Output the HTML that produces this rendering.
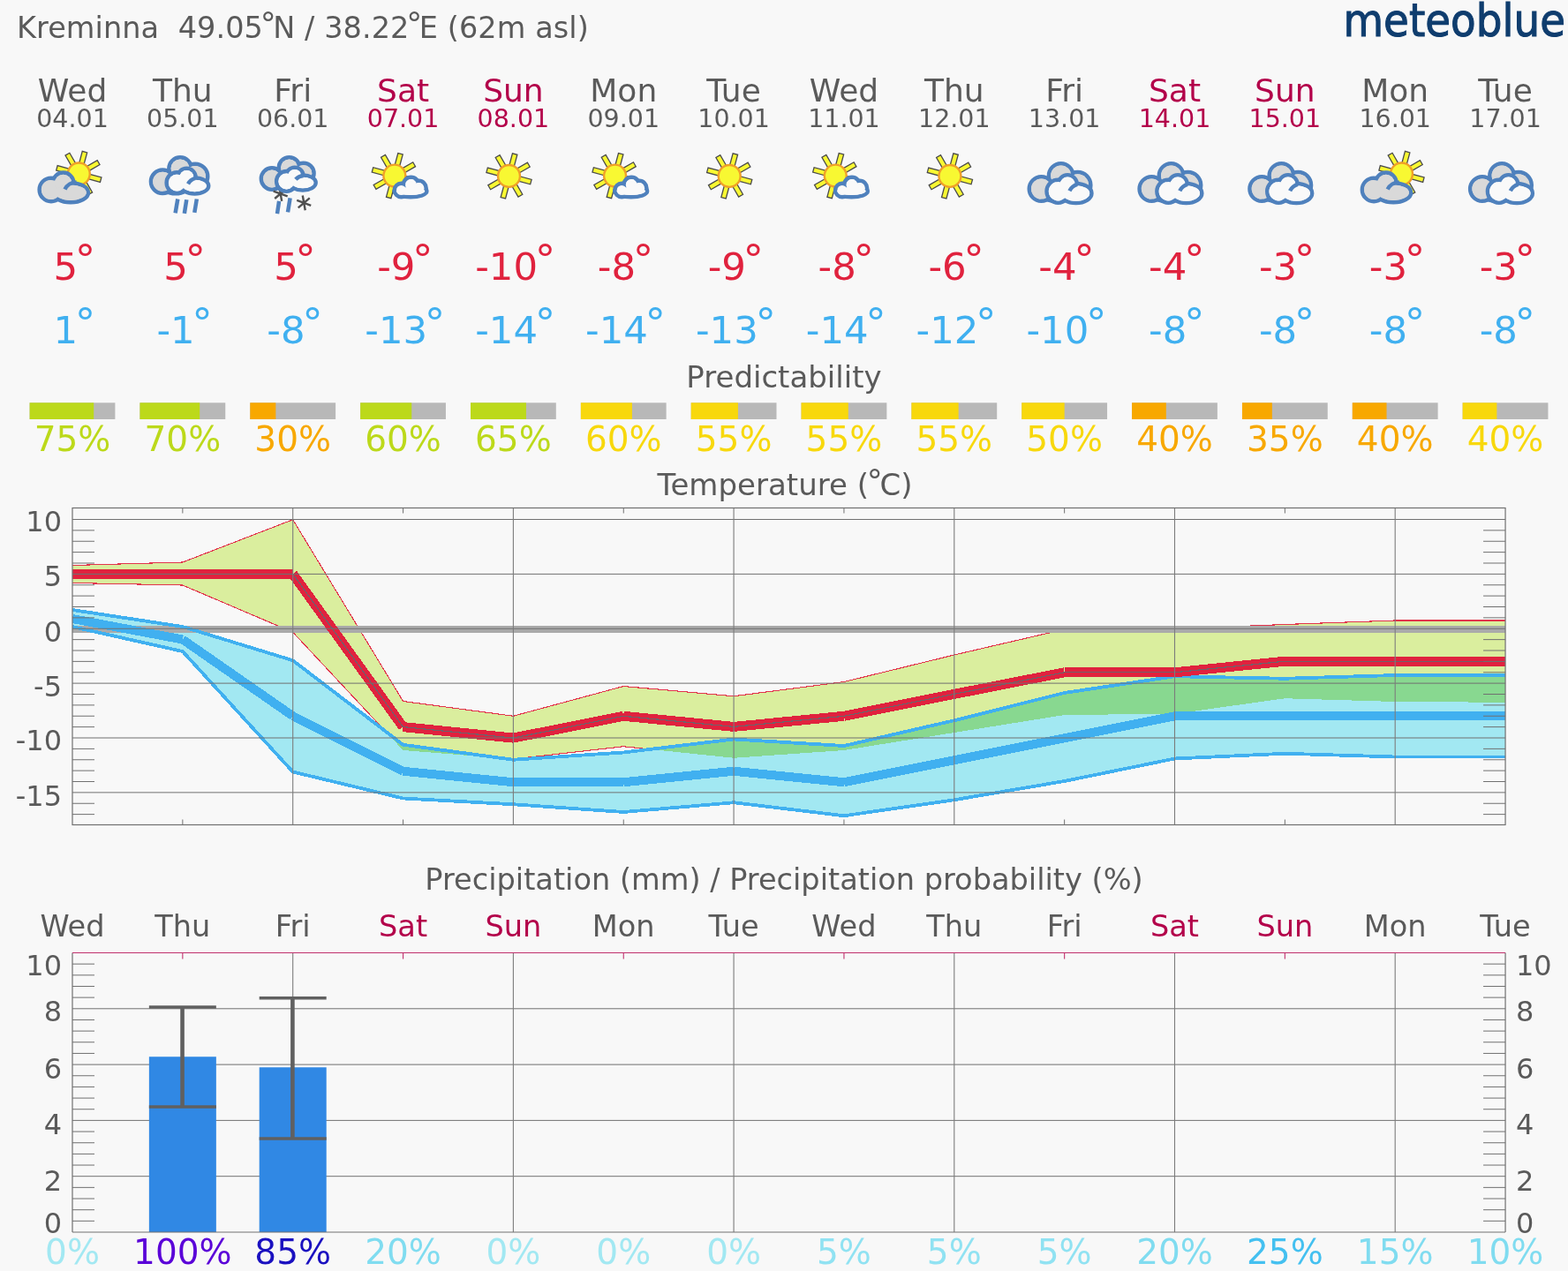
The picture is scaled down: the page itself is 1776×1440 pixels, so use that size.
<!DOCTYPE html>
<html><head><meta charset="utf-8"><title>meteoblue 14-day meteogram Kreminna</title>
<style>
html,body{margin:0;padding:0;background:#f8f8f8;}
body{width:1776px;height:1440px;overflow:hidden;}
svg{display:block;}
text{font-family:'DejaVu Sans', 'Liberation Sans', sans-serif;}
</style></head><body>
<svg width="1776" height="1440" viewBox="0 0 1776 1440">
<rect x="0" y="0" width="1776" height="1440" fill="#f8f8f8"/>

<text x="19" y="43" font-size="33.5" letter-spacing="0.08" fill="#5a5a5a" xml:space="preserve">Kreminna  49.05<tspan font-size="36" dx="-3.2" dy="-4.5">°</tspan><tspan dx="-3.6" dy="4.5">N / 38.22</tspan><tspan font-size="36" dx="-3.2" dy="-4.5">°</tspan><tspan dx="-3.6" dy="4.5">E (62m asl)</tspan></text>
<text x="1521.5" y="41.4" font-size="52" fill="#0f3d6e" stroke="#0f3d6e" stroke-width="1.1" textLength="251.5" lengthAdjust="spacingAndGlyphs" style="font-family:'DejaVu Sans',sans-serif">meteoblue</text>
<text x="82.00" y="115" font-size="36" fill="#5a5a5a" text-anchor="middle">Wed</text>
<text x="82.00" y="144" font-size="28.5" fill="#5a5a5a" text-anchor="middle">04.01</text>
<text x="206.85" y="115" font-size="36" fill="#5a5a5a" text-anchor="middle">Thu</text>
<text x="206.85" y="144" font-size="28.5" fill="#5a5a5a" text-anchor="middle">05.01</text>
<text x="331.70" y="115" font-size="36" fill="#5a5a5a" text-anchor="middle">Fri</text>
<text x="331.70" y="144" font-size="28.5" fill="#5a5a5a" text-anchor="middle">06.01</text>
<text x="456.55" y="115" font-size="36" fill="#b3004a" text-anchor="middle">Sat</text>
<text x="456.55" y="144" font-size="28.5" fill="#b3004a" text-anchor="middle">07.01</text>
<text x="581.40" y="115" font-size="36" fill="#b3004a" text-anchor="middle">Sun</text>
<text x="581.40" y="144" font-size="28.5" fill="#b3004a" text-anchor="middle">08.01</text>
<text x="706.25" y="115" font-size="36" fill="#5a5a5a" text-anchor="middle">Mon</text>
<text x="706.25" y="144" font-size="28.5" fill="#5a5a5a" text-anchor="middle">09.01</text>
<text x="831.10" y="115" font-size="36" fill="#5a5a5a" text-anchor="middle">Tue</text>
<text x="831.10" y="144" font-size="28.5" fill="#5a5a5a" text-anchor="middle">10.01</text>
<text x="955.95" y="115" font-size="36" fill="#5a5a5a" text-anchor="middle">Wed</text>
<text x="955.95" y="144" font-size="28.5" fill="#5a5a5a" text-anchor="middle">11.01</text>
<text x="1080.80" y="115" font-size="36" fill="#5a5a5a" text-anchor="middle">Thu</text>
<text x="1080.80" y="144" font-size="28.5" fill="#5a5a5a" text-anchor="middle">12.01</text>
<text x="1205.65" y="115" font-size="36" fill="#5a5a5a" text-anchor="middle">Fri</text>
<text x="1205.65" y="144" font-size="28.5" fill="#5a5a5a" text-anchor="middle">13.01</text>
<text x="1330.50" y="115" font-size="36" fill="#b3004a" text-anchor="middle">Sat</text>
<text x="1330.50" y="144" font-size="28.5" fill="#b3004a" text-anchor="middle">14.01</text>
<text x="1455.35" y="115" font-size="36" fill="#b3004a" text-anchor="middle">Sun</text>
<text x="1455.35" y="144" font-size="28.5" fill="#b3004a" text-anchor="middle">15.01</text>
<text x="1580.20" y="115" font-size="36" fill="#5a5a5a" text-anchor="middle">Mon</text>
<text x="1580.20" y="144" font-size="28.5" fill="#5a5a5a" text-anchor="middle">16.01</text>
<text x="1705.05" y="115" font-size="36" fill="#5a5a5a" text-anchor="middle">Tue</text>
<text x="1705.05" y="144" font-size="28.5" fill="#5a5a5a" text-anchor="middle">17.01</text>
<g><polygon points="94.76,187.44 98.67,172.85 93.26,171.40 89.35,185.99" fill="#f8f832" stroke="#4a4a4a" stroke-width="1.3" stroke-linejoin="miter"/><polygon points="99.92,194.10 113.00,186.55 110.20,181.70 97.12,189.25" fill="#f8f832" stroke="#4a4a4a" stroke-width="1.3" stroke-linejoin="miter"/><polygon points="98.86,202.46 113.45,206.37 114.90,200.96 100.31,197.05" fill="#f8f832" stroke="#4a4a4a" stroke-width="1.3" stroke-linejoin="miter"/><polygon points="92.20,207.62 99.75,220.70 104.60,217.90 97.05,204.82" fill="#f8f832" stroke="#4a4a4a" stroke-width="1.3" stroke-linejoin="miter"/><polygon points="83.84,206.56 79.93,221.15 85.34,222.60 89.25,208.01" fill="#f8f832" stroke="#4a4a4a" stroke-width="1.3" stroke-linejoin="miter"/><polygon points="78.68,199.90 65.60,207.45 68.40,212.30 81.48,204.75" fill="#f8f832" stroke="#4a4a4a" stroke-width="1.3" stroke-linejoin="miter"/><polygon points="79.74,191.54 65.15,187.63 63.70,193.04 78.29,196.95" fill="#f8f832" stroke="#4a4a4a" stroke-width="1.3" stroke-linejoin="miter"/><polygon points="86.40,186.38 78.85,173.30 74.00,176.10 81.55,189.18" fill="#f8f832" stroke="#4a4a4a" stroke-width="1.3" stroke-linejoin="miter"/><circle cx="89.30" cy="197.00" r="12.45" fill="#f8f832" stroke="#f0a028" stroke-width="2.4"/><circle cx="57.90" cy="214.90" r="13.25" fill="#d9d9d9" stroke="#4f81bd" stroke-width="4.5"/><circle cx="71.60" cy="207.30" r="11.75" fill="#d9d9d9" stroke="#4f81bd" stroke-width="4.5"/><ellipse cx="80.00" cy="218.15" rx="20.00" ry="11.00" fill="#d9d9d9" stroke="#4f81bd" stroke-width="4.5"/><circle cx="57.90" cy="214.90" r="11.00" fill="#d9d9d9"/><circle cx="71.60" cy="207.30" r="9.50" fill="#d9d9d9"/><ellipse cx="80.00" cy="218.15" rx="17.75" ry="8.75" fill="#d9d9d9"/><path d="M73.50,214.50 A13.50,13.50 0 0 1 86.50,206.80" fill="none" stroke="#4f81bd" stroke-width="4.5"/></g>
<g><circle cx="184.20" cy="205.80" r="13.25" fill="#d9d9d9" stroke="#4f81bd" stroke-width="4.5"/><circle cx="204.10" cy="191.00" r="12.75" fill="#d9d9d9" stroke="#4f81bd" stroke-width="4.5"/><circle cx="221.00" cy="200.00" r="14.25" fill="#d9d9d9" stroke="#4f81bd" stroke-width="4.5"/><ellipse cx="198.85" cy="209.00" rx="15.75" ry="10.25" fill="#d9d9d9" stroke="#4f81bd" stroke-width="4.5"/><circle cx="184.20" cy="205.80" r="11.00" fill="#d9d9d9"/><circle cx="204.10" cy="191.00" r="10.50" fill="#d9d9d9"/><circle cx="221.00" cy="200.00" r="12.00" fill="#d9d9d9"/><ellipse cx="198.85" cy="209.00" rx="13.50" ry="8.00" fill="#d9d9d9"/><circle cx="200.50" cy="207.00" r="11.85" fill="#f9f9f9" stroke="#4f81bd" stroke-width="4.5"/><circle cx="211.40" cy="201.00" r="10.25" fill="#f9f9f9" stroke="#4f81bd" stroke-width="4.5"/><ellipse cx="220.50" cy="210.50" rx="15.75" ry="8.95" fill="#f9f9f9" stroke="#4f81bd" stroke-width="4.5"/><circle cx="200.50" cy="207.00" r="9.60" fill="#f9f9f9"/><circle cx="211.40" cy="201.00" r="8.00" fill="#f9f9f9"/><ellipse cx="220.50" cy="210.50" rx="13.50" ry="6.70" fill="#f9f9f9"/><path d="M213.00,208.30 A14.00,14.00 0 0 1 221.15,201.80" fill="none" stroke="#4f81bd" stroke-width="4.5"/><line x1="201.30" y1="225.50" x2="198.60" y2="241.30" stroke="#4f81bd" stroke-width="4.5"/><line x1="211.30" y1="226.25" x2="208.85" y2="241.90" stroke="#4f81bd" stroke-width="4.5"/><line x1="222.85" y1="225.50" x2="220.30" y2="240.80" stroke="#4f81bd" stroke-width="4.5"/></g>
<g><circle cx="308.00" cy="202.50" r="12.15" fill="#d9d9d9" stroke="#4f81bd" stroke-width="4.5"/><circle cx="327.60" cy="190.00" r="11.75" fill="#d9d9d9" stroke="#4f81bd" stroke-width="4.5"/><circle cx="343.80" cy="196.50" r="11.75" fill="#d9d9d9" stroke="#4f81bd" stroke-width="4.5"/><ellipse cx="322.70" cy="206.00" rx="13.75" ry="8.75" fill="#d9d9d9" stroke="#4f81bd" stroke-width="4.5"/><circle cx="308.00" cy="202.50" r="9.90" fill="#d9d9d9"/><circle cx="327.60" cy="190.00" r="9.50" fill="#d9d9d9"/><circle cx="343.80" cy="196.50" r="9.50" fill="#d9d9d9"/><ellipse cx="322.70" cy="206.00" rx="11.50" ry="6.50" fill="#d9d9d9"/><line x1="319.18" y1="227.87" x2="316.22" y2="211.13" stroke="#505050" stroke-width="2.4"/><line x1="311.19" y1="224.96" x2="324.21" y2="214.04" stroke="#505050" stroke-width="2.4"/><line x1="309.71" y1="216.59" x2="325.69" y2="222.41" stroke="#505050" stroke-width="2.4"/><circle cx="324.50" cy="205.40" r="11.35" fill="#f9f9f9" stroke="#4f81bd" stroke-width="4.5"/><circle cx="333.80" cy="199.40" r="9.75" fill="#f9f9f9" stroke="#4f81bd" stroke-width="4.5"/><ellipse cx="342.90" cy="207.00" rx="14.75" ry="8.55" fill="#f9f9f9" stroke="#4f81bd" stroke-width="4.5"/><circle cx="324.50" cy="205.40" r="9.10" fill="#f9f9f9"/><circle cx="333.80" cy="199.40" r="7.50" fill="#f9f9f9"/><ellipse cx="342.90" cy="207.00" rx="12.50" ry="6.30" fill="#f9f9f9"/><path d="M334.90,203.30 A13.00,13.00 0 0 1 343.70,198.90" fill="none" stroke="#4f81bd" stroke-width="4.5"/><line x1="316.10" y1="227.80" x2="314.00" y2="242.10" stroke="#4f81bd" stroke-width="4.5"/><line x1="328.60" y1="224.40" x2="326.00" y2="240.30" stroke="#4f81bd" stroke-width="4.5"/><line x1="345.73" y1="238.27" x2="342.77" y2="221.53" stroke="#505050" stroke-width="2.4"/><line x1="337.74" y1="235.36" x2="350.76" y2="224.44" stroke="#505050" stroke-width="2.4"/><line x1="336.26" y1="226.99" x2="352.24" y2="232.81" stroke="#505050" stroke-width="2.4"/></g>
<g><polygon points="452.31,189.54 456.22,174.95 450.81,173.50 446.90,188.09" fill="#f8f832" stroke="#4a4a4a" stroke-width="1.3" stroke-linejoin="miter"/><polygon points="457.47,196.20 470.55,188.65 467.75,183.80 454.67,191.35" fill="#f8f832" stroke="#4a4a4a" stroke-width="1.3" stroke-linejoin="miter"/><polygon points="456.41,204.56 471.00,208.47 472.45,203.06 457.86,199.15" fill="#f8f832" stroke="#4a4a4a" stroke-width="1.3" stroke-linejoin="miter"/><polygon points="449.75,209.72 457.30,222.80 462.15,220.00 454.60,206.92" fill="#f8f832" stroke="#4a4a4a" stroke-width="1.3" stroke-linejoin="miter"/><polygon points="441.39,208.66 437.48,223.25 442.89,224.70 446.80,210.11" fill="#f8f832" stroke="#4a4a4a" stroke-width="1.3" stroke-linejoin="miter"/><polygon points="436.23,202.00 423.15,209.55 425.95,214.40 439.03,206.85" fill="#f8f832" stroke="#4a4a4a" stroke-width="1.3" stroke-linejoin="miter"/><polygon points="437.29,193.64 422.70,189.73 421.25,195.14 435.84,199.05" fill="#f8f832" stroke="#4a4a4a" stroke-width="1.3" stroke-linejoin="miter"/><polygon points="443.95,188.48 436.40,175.40 431.55,178.20 439.10,191.28" fill="#f8f832" stroke="#4a4a4a" stroke-width="1.3" stroke-linejoin="miter"/><circle cx="446.85" cy="199.10" r="12.45" fill="#f8f832" stroke="#f0a028" stroke-width="2.4"/><circle cx="454.50" cy="215.50" r="7.75" fill="#f9f9f9" stroke="#4f81bd" stroke-width="4.5"/><circle cx="465.55" cy="209.50" r="8.75" fill="#f9f9f9" stroke="#4f81bd" stroke-width="4.5"/><circle cx="474.35" cy="213.20" r="8.35" fill="#f9f9f9" stroke="#4f81bd" stroke-width="4.5"/><ellipse cx="465.05" cy="216.60" rx="18.35" ry="6.65" fill="#f9f9f9" stroke="#4f81bd" stroke-width="4.5"/><circle cx="454.50" cy="215.50" r="5.50" fill="#f9f9f9"/><circle cx="465.55" cy="209.50" r="6.50" fill="#f9f9f9"/><circle cx="474.35" cy="213.20" r="6.10" fill="#f9f9f9"/><ellipse cx="465.05" cy="216.60" rx="16.10" ry="4.40" fill="#f9f9f9"/></g>
<g><polygon points="581.96,189.84 585.87,175.25 580.46,173.80 576.55,188.39" fill="#f8f832" stroke="#4a4a4a" stroke-width="1.3" stroke-linejoin="miter"/><polygon points="587.12,196.50 600.20,188.95 597.40,184.10 584.32,191.65" fill="#f8f832" stroke="#4a4a4a" stroke-width="1.3" stroke-linejoin="miter"/><polygon points="586.06,204.86 600.65,208.77 602.10,203.36 587.51,199.45" fill="#f8f832" stroke="#4a4a4a" stroke-width="1.3" stroke-linejoin="miter"/><polygon points="579.40,210.02 586.95,223.10 591.80,220.30 584.25,207.22" fill="#f8f832" stroke="#4a4a4a" stroke-width="1.3" stroke-linejoin="miter"/><polygon points="571.04,208.96 567.13,223.55 572.54,225.00 576.45,210.41" fill="#f8f832" stroke="#4a4a4a" stroke-width="1.3" stroke-linejoin="miter"/><polygon points="565.88,202.30 552.80,209.85 555.60,214.70 568.68,207.15" fill="#f8f832" stroke="#4a4a4a" stroke-width="1.3" stroke-linejoin="miter"/><polygon points="566.94,193.94 552.35,190.03 550.90,195.44 565.49,199.35" fill="#f8f832" stroke="#4a4a4a" stroke-width="1.3" stroke-linejoin="miter"/><polygon points="573.60,188.78 566.05,175.70 561.20,178.50 568.75,191.58" fill="#f8f832" stroke="#4a4a4a" stroke-width="1.3" stroke-linejoin="miter"/><circle cx="576.50" cy="199.40" r="12.45" fill="#f8f832" stroke="#f0a028" stroke-width="2.4"/></g>
<g><polygon points="702.01,189.54 705.92,174.95 700.51,173.50 696.60,188.09" fill="#f8f832" stroke="#4a4a4a" stroke-width="1.3" stroke-linejoin="miter"/><polygon points="707.17,196.20 720.25,188.65 717.45,183.80 704.37,191.35" fill="#f8f832" stroke="#4a4a4a" stroke-width="1.3" stroke-linejoin="miter"/><polygon points="706.11,204.56 720.70,208.47 722.15,203.06 707.56,199.15" fill="#f8f832" stroke="#4a4a4a" stroke-width="1.3" stroke-linejoin="miter"/><polygon points="699.45,209.72 707.00,222.80 711.85,220.00 704.30,206.92" fill="#f8f832" stroke="#4a4a4a" stroke-width="1.3" stroke-linejoin="miter"/><polygon points="691.09,208.66 687.18,223.25 692.59,224.70 696.50,210.11" fill="#f8f832" stroke="#4a4a4a" stroke-width="1.3" stroke-linejoin="miter"/><polygon points="685.93,202.00 672.85,209.55 675.65,214.40 688.73,206.85" fill="#f8f832" stroke="#4a4a4a" stroke-width="1.3" stroke-linejoin="miter"/><polygon points="686.99,193.64 672.40,189.73 670.95,195.14 685.54,199.05" fill="#f8f832" stroke="#4a4a4a" stroke-width="1.3" stroke-linejoin="miter"/><polygon points="693.65,188.48 686.10,175.40 681.25,178.20 688.80,191.28" fill="#f8f832" stroke="#4a4a4a" stroke-width="1.3" stroke-linejoin="miter"/><circle cx="696.55" cy="199.10" r="12.45" fill="#f8f832" stroke="#f0a028" stroke-width="2.4"/><circle cx="704.20" cy="215.50" r="7.75" fill="#f9f9f9" stroke="#4f81bd" stroke-width="4.5"/><circle cx="715.25" cy="209.50" r="8.75" fill="#f9f9f9" stroke="#4f81bd" stroke-width="4.5"/><circle cx="724.05" cy="213.20" r="8.35" fill="#f9f9f9" stroke="#4f81bd" stroke-width="4.5"/><ellipse cx="714.75" cy="216.60" rx="18.35" ry="6.65" fill="#f9f9f9" stroke="#4f81bd" stroke-width="4.5"/><circle cx="704.20" cy="215.50" r="5.50" fill="#f9f9f9"/><circle cx="715.25" cy="209.50" r="6.50" fill="#f9f9f9"/><circle cx="724.05" cy="213.20" r="6.10" fill="#f9f9f9"/><ellipse cx="714.75" cy="216.60" rx="16.10" ry="4.40" fill="#f9f9f9"/></g>
<g><polygon points="831.66,189.84 835.57,175.25 830.16,173.80 826.25,188.39" fill="#f8f832" stroke="#4a4a4a" stroke-width="1.3" stroke-linejoin="miter"/><polygon points="836.82,196.50 849.90,188.95 847.10,184.10 834.02,191.65" fill="#f8f832" stroke="#4a4a4a" stroke-width="1.3" stroke-linejoin="miter"/><polygon points="835.76,204.86 850.35,208.77 851.80,203.36 837.21,199.45" fill="#f8f832" stroke="#4a4a4a" stroke-width="1.3" stroke-linejoin="miter"/><polygon points="829.10,210.02 836.65,223.10 841.50,220.30 833.95,207.22" fill="#f8f832" stroke="#4a4a4a" stroke-width="1.3" stroke-linejoin="miter"/><polygon points="820.74,208.96 816.83,223.55 822.24,225.00 826.15,210.41" fill="#f8f832" stroke="#4a4a4a" stroke-width="1.3" stroke-linejoin="miter"/><polygon points="815.58,202.30 802.50,209.85 805.30,214.70 818.38,207.15" fill="#f8f832" stroke="#4a4a4a" stroke-width="1.3" stroke-linejoin="miter"/><polygon points="816.64,193.94 802.05,190.03 800.60,195.44 815.19,199.35" fill="#f8f832" stroke="#4a4a4a" stroke-width="1.3" stroke-linejoin="miter"/><polygon points="823.30,188.78 815.75,175.70 810.90,178.50 818.45,191.58" fill="#f8f832" stroke="#4a4a4a" stroke-width="1.3" stroke-linejoin="miter"/><circle cx="826.20" cy="199.40" r="12.45" fill="#f8f832" stroke="#f0a028" stroke-width="2.4"/></g>
<g><polygon points="951.71,189.54 955.62,174.95 950.21,173.50 946.30,188.09" fill="#f8f832" stroke="#4a4a4a" stroke-width="1.3" stroke-linejoin="miter"/><polygon points="956.87,196.20 969.95,188.65 967.15,183.80 954.07,191.35" fill="#f8f832" stroke="#4a4a4a" stroke-width="1.3" stroke-linejoin="miter"/><polygon points="955.81,204.56 970.40,208.47 971.85,203.06 957.26,199.15" fill="#f8f832" stroke="#4a4a4a" stroke-width="1.3" stroke-linejoin="miter"/><polygon points="949.15,209.72 956.70,222.80 961.55,220.00 954.00,206.92" fill="#f8f832" stroke="#4a4a4a" stroke-width="1.3" stroke-linejoin="miter"/><polygon points="940.79,208.66 936.88,223.25 942.29,224.70 946.20,210.11" fill="#f8f832" stroke="#4a4a4a" stroke-width="1.3" stroke-linejoin="miter"/><polygon points="935.63,202.00 922.55,209.55 925.35,214.40 938.43,206.85" fill="#f8f832" stroke="#4a4a4a" stroke-width="1.3" stroke-linejoin="miter"/><polygon points="936.69,193.64 922.10,189.73 920.65,195.14 935.24,199.05" fill="#f8f832" stroke="#4a4a4a" stroke-width="1.3" stroke-linejoin="miter"/><polygon points="943.35,188.48 935.80,175.40 930.95,178.20 938.50,191.28" fill="#f8f832" stroke="#4a4a4a" stroke-width="1.3" stroke-linejoin="miter"/><circle cx="946.25" cy="199.10" r="12.45" fill="#f8f832" stroke="#f0a028" stroke-width="2.4"/><circle cx="953.90" cy="215.50" r="7.75" fill="#f9f9f9" stroke="#4f81bd" stroke-width="4.5"/><circle cx="964.95" cy="209.50" r="8.75" fill="#f9f9f9" stroke="#4f81bd" stroke-width="4.5"/><circle cx="973.75" cy="213.20" r="8.35" fill="#f9f9f9" stroke="#4f81bd" stroke-width="4.5"/><ellipse cx="964.45" cy="216.60" rx="18.35" ry="6.65" fill="#f9f9f9" stroke="#4f81bd" stroke-width="4.5"/><circle cx="953.90" cy="215.50" r="5.50" fill="#f9f9f9"/><circle cx="964.95" cy="209.50" r="6.50" fill="#f9f9f9"/><circle cx="973.75" cy="213.20" r="6.10" fill="#f9f9f9"/><ellipse cx="964.45" cy="216.60" rx="16.10" ry="4.40" fill="#f9f9f9"/></g>
<g><polygon points="1081.36,189.84 1085.27,175.25 1079.86,173.80 1075.95,188.39" fill="#f8f832" stroke="#4a4a4a" stroke-width="1.3" stroke-linejoin="miter"/><polygon points="1086.52,196.50 1099.60,188.95 1096.80,184.10 1083.72,191.65" fill="#f8f832" stroke="#4a4a4a" stroke-width="1.3" stroke-linejoin="miter"/><polygon points="1085.46,204.86 1100.05,208.77 1101.50,203.36 1086.91,199.45" fill="#f8f832" stroke="#4a4a4a" stroke-width="1.3" stroke-linejoin="miter"/><polygon points="1078.80,210.02 1086.35,223.10 1091.20,220.30 1083.65,207.22" fill="#f8f832" stroke="#4a4a4a" stroke-width="1.3" stroke-linejoin="miter"/><polygon points="1070.44,208.96 1066.53,223.55 1071.94,225.00 1075.85,210.41" fill="#f8f832" stroke="#4a4a4a" stroke-width="1.3" stroke-linejoin="miter"/><polygon points="1065.28,202.30 1052.20,209.85 1055.00,214.70 1068.08,207.15" fill="#f8f832" stroke="#4a4a4a" stroke-width="1.3" stroke-linejoin="miter"/><polygon points="1066.34,193.94 1051.75,190.03 1050.30,195.44 1064.89,199.35" fill="#f8f832" stroke="#4a4a4a" stroke-width="1.3" stroke-linejoin="miter"/><polygon points="1073.00,188.78 1065.45,175.70 1060.60,178.50 1068.15,191.58" fill="#f8f832" stroke="#4a4a4a" stroke-width="1.3" stroke-linejoin="miter"/><circle cx="1075.90" cy="199.40" r="12.45" fill="#f8f832" stroke="#f0a028" stroke-width="2.4"/></g>
<g><circle cx="1179.50" cy="214.00" r="13.75" fill="#d9d9d9" stroke="#4f81bd" stroke-width="4.5"/><circle cx="1201.70" cy="199.00" r="13.75" fill="#d9d9d9" stroke="#4f81bd" stroke-width="4.5"/><circle cx="1220.60" cy="209.80" r="14.75" fill="#d9d9d9" stroke="#4f81bd" stroke-width="4.5"/><ellipse cx="1195.00" cy="218.00" rx="17.75" ry="9.75" fill="#d9d9d9" stroke="#4f81bd" stroke-width="4.5"/><circle cx="1179.50" cy="214.00" r="11.50" fill="#d9d9d9"/><circle cx="1201.70" cy="199.00" r="11.50" fill="#d9d9d9"/><circle cx="1220.60" cy="209.80" r="12.50" fill="#d9d9d9"/><ellipse cx="1195.00" cy="218.00" rx="15.50" ry="7.50" fill="#d9d9d9"/><circle cx="1198.50" cy="216.70" r="12.95" fill="#f9f9f9" stroke="#4f81bd" stroke-width="4.5"/><circle cx="1209.20" cy="209.10" r="10.75" fill="#f9f9f9" stroke="#4f81bd" stroke-width="4.5"/><ellipse cx="1218.70" cy="219.00" rx="17.75" ry="11.05" fill="#f9f9f9" stroke="#4f81bd" stroke-width="4.5"/><circle cx="1198.50" cy="216.70" r="10.70" fill="#f9f9f9"/><circle cx="1209.20" cy="209.10" r="8.50" fill="#f9f9f9"/><ellipse cx="1218.70" cy="219.00" rx="15.50" ry="8.80" fill="#f9f9f9"/><path d="M1211.40,216.20 A14.00,14.00 0 0 1 1220.25,208.80" fill="none" stroke="#4f81bd" stroke-width="4.5"/></g>
<g><circle cx="1304.35" cy="214.00" r="13.75" fill="#d9d9d9" stroke="#4f81bd" stroke-width="4.5"/><circle cx="1326.55" cy="199.00" r="13.75" fill="#d9d9d9" stroke="#4f81bd" stroke-width="4.5"/><circle cx="1345.45" cy="209.80" r="14.75" fill="#d9d9d9" stroke="#4f81bd" stroke-width="4.5"/><ellipse cx="1319.85" cy="218.00" rx="17.75" ry="9.75" fill="#d9d9d9" stroke="#4f81bd" stroke-width="4.5"/><circle cx="1304.35" cy="214.00" r="11.50" fill="#d9d9d9"/><circle cx="1326.55" cy="199.00" r="11.50" fill="#d9d9d9"/><circle cx="1345.45" cy="209.80" r="12.50" fill="#d9d9d9"/><ellipse cx="1319.85" cy="218.00" rx="15.50" ry="7.50" fill="#d9d9d9"/><circle cx="1323.35" cy="216.70" r="12.95" fill="#f9f9f9" stroke="#4f81bd" stroke-width="4.5"/><circle cx="1334.05" cy="209.10" r="10.75" fill="#f9f9f9" stroke="#4f81bd" stroke-width="4.5"/><ellipse cx="1343.55" cy="219.00" rx="17.75" ry="11.05" fill="#f9f9f9" stroke="#4f81bd" stroke-width="4.5"/><circle cx="1323.35" cy="216.70" r="10.70" fill="#f9f9f9"/><circle cx="1334.05" cy="209.10" r="8.50" fill="#f9f9f9"/><ellipse cx="1343.55" cy="219.00" rx="15.50" ry="8.80" fill="#f9f9f9"/><path d="M1336.25,216.20 A14.00,14.00 0 0 1 1345.10,208.80" fill="none" stroke="#4f81bd" stroke-width="4.5"/></g>
<g><circle cx="1429.20" cy="214.00" r="13.75" fill="#d9d9d9" stroke="#4f81bd" stroke-width="4.5"/><circle cx="1451.40" cy="199.00" r="13.75" fill="#d9d9d9" stroke="#4f81bd" stroke-width="4.5"/><circle cx="1470.30" cy="209.80" r="14.75" fill="#d9d9d9" stroke="#4f81bd" stroke-width="4.5"/><ellipse cx="1444.70" cy="218.00" rx="17.75" ry="9.75" fill="#d9d9d9" stroke="#4f81bd" stroke-width="4.5"/><circle cx="1429.20" cy="214.00" r="11.50" fill="#d9d9d9"/><circle cx="1451.40" cy="199.00" r="11.50" fill="#d9d9d9"/><circle cx="1470.30" cy="209.80" r="12.50" fill="#d9d9d9"/><ellipse cx="1444.70" cy="218.00" rx="15.50" ry="7.50" fill="#d9d9d9"/><circle cx="1448.20" cy="216.70" r="12.95" fill="#f9f9f9" stroke="#4f81bd" stroke-width="4.5"/><circle cx="1458.90" cy="209.10" r="10.75" fill="#f9f9f9" stroke="#4f81bd" stroke-width="4.5"/><ellipse cx="1468.40" cy="219.00" rx="17.75" ry="11.05" fill="#f9f9f9" stroke="#4f81bd" stroke-width="4.5"/><circle cx="1448.20" cy="216.70" r="10.70" fill="#f9f9f9"/><circle cx="1458.90" cy="209.10" r="8.50" fill="#f9f9f9"/><ellipse cx="1468.40" cy="219.00" rx="15.50" ry="8.80" fill="#f9f9f9"/><path d="M1461.10,216.20 A14.00,14.00 0 0 1 1469.95,208.80" fill="none" stroke="#4f81bd" stroke-width="4.5"/></g>
<g><polygon points="1592.96,187.44 1596.87,172.85 1591.46,171.40 1587.55,185.99" fill="#f8f832" stroke="#4a4a4a" stroke-width="1.3" stroke-linejoin="miter"/><polygon points="1598.12,194.10 1611.20,186.55 1608.40,181.70 1595.32,189.25" fill="#f8f832" stroke="#4a4a4a" stroke-width="1.3" stroke-linejoin="miter"/><polygon points="1597.06,202.46 1611.65,206.37 1613.10,200.96 1598.51,197.05" fill="#f8f832" stroke="#4a4a4a" stroke-width="1.3" stroke-linejoin="miter"/><polygon points="1590.40,207.62 1597.95,220.70 1602.80,217.90 1595.25,204.82" fill="#f8f832" stroke="#4a4a4a" stroke-width="1.3" stroke-linejoin="miter"/><polygon points="1582.04,206.56 1578.13,221.15 1583.54,222.60 1587.45,208.01" fill="#f8f832" stroke="#4a4a4a" stroke-width="1.3" stroke-linejoin="miter"/><polygon points="1576.88,199.90 1563.80,207.45 1566.60,212.30 1579.68,204.75" fill="#f8f832" stroke="#4a4a4a" stroke-width="1.3" stroke-linejoin="miter"/><polygon points="1577.94,191.54 1563.35,187.63 1561.90,193.04 1576.49,196.95" fill="#f8f832" stroke="#4a4a4a" stroke-width="1.3" stroke-linejoin="miter"/><polygon points="1584.60,186.38 1577.05,173.30 1572.20,176.10 1579.75,189.18" fill="#f8f832" stroke="#4a4a4a" stroke-width="1.3" stroke-linejoin="miter"/><circle cx="1587.50" cy="197.00" r="12.45" fill="#f8f832" stroke="#f0a028" stroke-width="2.4"/><circle cx="1556.10" cy="214.90" r="13.25" fill="#d9d9d9" stroke="#4f81bd" stroke-width="4.5"/><circle cx="1569.80" cy="207.30" r="11.75" fill="#d9d9d9" stroke="#4f81bd" stroke-width="4.5"/><ellipse cx="1578.20" cy="218.15" rx="20.00" ry="11.00" fill="#d9d9d9" stroke="#4f81bd" stroke-width="4.5"/><circle cx="1556.10" cy="214.90" r="11.00" fill="#d9d9d9"/><circle cx="1569.80" cy="207.30" r="9.50" fill="#d9d9d9"/><ellipse cx="1578.20" cy="218.15" rx="17.75" ry="8.75" fill="#d9d9d9"/><path d="M1571.70,214.50 A13.50,13.50 0 0 1 1584.70,206.80" fill="none" stroke="#4f81bd" stroke-width="4.5"/></g>
<g><circle cx="1678.90" cy="214.00" r="13.75" fill="#d9d9d9" stroke="#4f81bd" stroke-width="4.5"/><circle cx="1701.10" cy="199.00" r="13.75" fill="#d9d9d9" stroke="#4f81bd" stroke-width="4.5"/><circle cx="1720.00" cy="209.80" r="14.75" fill="#d9d9d9" stroke="#4f81bd" stroke-width="4.5"/><ellipse cx="1694.40" cy="218.00" rx="17.75" ry="9.75" fill="#d9d9d9" stroke="#4f81bd" stroke-width="4.5"/><circle cx="1678.90" cy="214.00" r="11.50" fill="#d9d9d9"/><circle cx="1701.10" cy="199.00" r="11.50" fill="#d9d9d9"/><circle cx="1720.00" cy="209.80" r="12.50" fill="#d9d9d9"/><ellipse cx="1694.40" cy="218.00" rx="15.50" ry="7.50" fill="#d9d9d9"/><circle cx="1697.90" cy="216.70" r="12.95" fill="#f9f9f9" stroke="#4f81bd" stroke-width="4.5"/><circle cx="1708.60" cy="209.10" r="10.75" fill="#f9f9f9" stroke="#4f81bd" stroke-width="4.5"/><ellipse cx="1718.10" cy="219.00" rx="17.75" ry="11.05" fill="#f9f9f9" stroke="#4f81bd" stroke-width="4.5"/><circle cx="1697.90" cy="216.70" r="10.70" fill="#f9f9f9"/><circle cx="1708.60" cy="209.10" r="8.50" fill="#f9f9f9"/><ellipse cx="1718.10" cy="219.00" rx="15.50" ry="8.80" fill="#f9f9f9"/><path d="M1710.80,216.20 A14.00,14.00 0 0 1 1719.65,208.80" fill="none" stroke="#4f81bd" stroke-width="4.5"/></g>
<text x="84.30" y="317.0" font-size="43.4" fill="#e0223e" text-anchor="middle">5<tspan font-size="47" dx="-3.4" dy="-7">°</tspan></text>
<text x="84.30" y="389.0" font-size="43.4" fill="#40b0f0" text-anchor="middle">1<tspan font-size="47" dx="-3.4" dy="-7">°</tspan></text>
<text x="209.15" y="317.0" font-size="43.4" fill="#e0223e" text-anchor="middle">5<tspan font-size="47" dx="-3.4" dy="-7">°</tspan></text>
<text x="209.15" y="389.0" font-size="43.4" fill="#40b0f0" text-anchor="middle">-1<tspan font-size="47" dx="-3.4" dy="-7">°</tspan></text>
<text x="334.00" y="317.0" font-size="43.4" fill="#e0223e" text-anchor="middle">5<tspan font-size="47" dx="-3.4" dy="-7">°</tspan></text>
<text x="334.00" y="389.0" font-size="43.4" fill="#40b0f0" text-anchor="middle">-8<tspan font-size="47" dx="-3.4" dy="-7">°</tspan></text>
<text x="458.85" y="317.0" font-size="43.4" fill="#e0223e" text-anchor="middle">-9<tspan font-size="47" dx="-3.4" dy="-7">°</tspan></text>
<text x="458.85" y="389.0" font-size="43.4" fill="#40b0f0" text-anchor="middle">-13<tspan font-size="47" dx="-3.4" dy="-7">°</tspan></text>
<text x="583.70" y="317.0" font-size="43.4" fill="#e0223e" text-anchor="middle">-10<tspan font-size="47" dx="-3.4" dy="-7">°</tspan></text>
<text x="583.70" y="389.0" font-size="43.4" fill="#40b0f0" text-anchor="middle">-14<tspan font-size="47" dx="-3.4" dy="-7">°</tspan></text>
<text x="708.55" y="317.0" font-size="43.4" fill="#e0223e" text-anchor="middle">-8<tspan font-size="47" dx="-3.4" dy="-7">°</tspan></text>
<text x="708.55" y="389.0" font-size="43.4" fill="#40b0f0" text-anchor="middle">-14<tspan font-size="47" dx="-3.4" dy="-7">°</tspan></text>
<text x="833.40" y="317.0" font-size="43.4" fill="#e0223e" text-anchor="middle">-9<tspan font-size="47" dx="-3.4" dy="-7">°</tspan></text>
<text x="833.40" y="389.0" font-size="43.4" fill="#40b0f0" text-anchor="middle">-13<tspan font-size="47" dx="-3.4" dy="-7">°</tspan></text>
<text x="958.25" y="317.0" font-size="43.4" fill="#e0223e" text-anchor="middle">-8<tspan font-size="47" dx="-3.4" dy="-7">°</tspan></text>
<text x="958.25" y="389.0" font-size="43.4" fill="#40b0f0" text-anchor="middle">-14<tspan font-size="47" dx="-3.4" dy="-7">°</tspan></text>
<text x="1083.10" y="317.0" font-size="43.4" fill="#e0223e" text-anchor="middle">-6<tspan font-size="47" dx="-3.4" dy="-7">°</tspan></text>
<text x="1083.10" y="389.0" font-size="43.4" fill="#40b0f0" text-anchor="middle">-12<tspan font-size="47" dx="-3.4" dy="-7">°</tspan></text>
<text x="1207.95" y="317.0" font-size="43.4" fill="#e0223e" text-anchor="middle">-4<tspan font-size="47" dx="-3.4" dy="-7">°</tspan></text>
<text x="1207.95" y="389.0" font-size="43.4" fill="#40b0f0" text-anchor="middle">-10<tspan font-size="47" dx="-3.4" dy="-7">°</tspan></text>
<text x="1332.80" y="317.0" font-size="43.4" fill="#e0223e" text-anchor="middle">-4<tspan font-size="47" dx="-3.4" dy="-7">°</tspan></text>
<text x="1332.80" y="389.0" font-size="43.4" fill="#40b0f0" text-anchor="middle">-8<tspan font-size="47" dx="-3.4" dy="-7">°</tspan></text>
<text x="1457.65" y="317.0" font-size="43.4" fill="#e0223e" text-anchor="middle">-3<tspan font-size="47" dx="-3.4" dy="-7">°</tspan></text>
<text x="1457.65" y="389.0" font-size="43.4" fill="#40b0f0" text-anchor="middle">-8<tspan font-size="47" dx="-3.4" dy="-7">°</tspan></text>
<text x="1582.50" y="317.0" font-size="43.4" fill="#e0223e" text-anchor="middle">-3<tspan font-size="47" dx="-3.4" dy="-7">°</tspan></text>
<text x="1582.50" y="389.0" font-size="43.4" fill="#40b0f0" text-anchor="middle">-8<tspan font-size="47" dx="-3.4" dy="-7">°</tspan></text>
<text x="1707.35" y="317.0" font-size="43.4" fill="#e0223e" text-anchor="middle">-3<tspan font-size="47" dx="-3.4" dy="-7">°</tspan></text>
<text x="1707.35" y="389.0" font-size="43.4" fill="#40b0f0" text-anchor="middle">-8<tspan font-size="47" dx="-3.4" dy="-7">°</tspan></text>
<text x="888" y="438.7" font-size="34" fill="#5a5a5a" text-anchor="middle">Predictability</text>
<rect x="33.60" y="456.3" width="96.8" height="18.7" fill="#b8b8b8"/>
<rect x="33.60" y="456.3" width="72.60" height="18.7" fill="#bcd91a"/>
<text x="82.00" y="511.3" font-size="39" fill="#bcd91a" text-anchor="middle">75%</text>
<rect x="158.45" y="456.3" width="96.8" height="18.7" fill="#b8b8b8"/>
<rect x="158.45" y="456.3" width="67.76" height="18.7" fill="#bcd91a"/>
<text x="206.85" y="511.3" font-size="39" fill="#bcd91a" text-anchor="middle">70%</text>
<rect x="283.30" y="456.3" width="96.8" height="18.7" fill="#b8b8b8"/>
<rect x="283.30" y="456.3" width="29.04" height="18.7" fill="#f8a800"/>
<text x="331.70" y="511.3" font-size="39" fill="#f8a800" text-anchor="middle">30%</text>
<rect x="408.15" y="456.3" width="96.8" height="18.7" fill="#b8b8b8"/>
<rect x="408.15" y="456.3" width="58.08" height="18.7" fill="#bcd91a"/>
<text x="456.55" y="511.3" font-size="39" fill="#bcd91a" text-anchor="middle">60%</text>
<rect x="533.00" y="456.3" width="96.8" height="18.7" fill="#b8b8b8"/>
<rect x="533.00" y="456.3" width="62.92" height="18.7" fill="#bcd91a"/>
<text x="581.40" y="511.3" font-size="39" fill="#bcd91a" text-anchor="middle">65%</text>
<rect x="657.85" y="456.3" width="96.8" height="18.7" fill="#b8b8b8"/>
<rect x="657.85" y="456.3" width="58.08" height="18.7" fill="#f8d80c"/>
<text x="706.25" y="511.3" font-size="39" fill="#f8d80c" text-anchor="middle">60%</text>
<rect x="782.70" y="456.3" width="96.8" height="18.7" fill="#b8b8b8"/>
<rect x="782.70" y="456.3" width="53.24" height="18.7" fill="#f8d80c"/>
<text x="831.10" y="511.3" font-size="39" fill="#f8d80c" text-anchor="middle">55%</text>
<rect x="907.55" y="456.3" width="96.8" height="18.7" fill="#b8b8b8"/>
<rect x="907.55" y="456.3" width="53.24" height="18.7" fill="#f8d80c"/>
<text x="955.95" y="511.3" font-size="39" fill="#f8d80c" text-anchor="middle">55%</text>
<rect x="1032.40" y="456.3" width="96.8" height="18.7" fill="#b8b8b8"/>
<rect x="1032.40" y="456.3" width="53.24" height="18.7" fill="#f8d80c"/>
<text x="1080.80" y="511.3" font-size="39" fill="#f8d80c" text-anchor="middle">55%</text>
<rect x="1157.25" y="456.3" width="96.8" height="18.7" fill="#b8b8b8"/>
<rect x="1157.25" y="456.3" width="48.40" height="18.7" fill="#f8d80c"/>
<text x="1205.65" y="511.3" font-size="39" fill="#f8d80c" text-anchor="middle">50%</text>
<rect x="1282.10" y="456.3" width="96.8" height="18.7" fill="#b8b8b8"/>
<rect x="1282.10" y="456.3" width="38.72" height="18.7" fill="#f8a800"/>
<text x="1330.50" y="511.3" font-size="39" fill="#f8a800" text-anchor="middle">40%</text>
<rect x="1406.95" y="456.3" width="96.8" height="18.7" fill="#b8b8b8"/>
<rect x="1406.95" y="456.3" width="33.88" height="18.7" fill="#f8a800"/>
<text x="1455.35" y="511.3" font-size="39" fill="#f8a800" text-anchor="middle">35%</text>
<rect x="1531.80" y="456.3" width="96.8" height="18.7" fill="#b8b8b8"/>
<rect x="1531.80" y="456.3" width="38.72" height="18.7" fill="#f8a800"/>
<text x="1580.20" y="511.3" font-size="39" fill="#f8a800" text-anchor="middle">40%</text>
<rect x="1656.65" y="456.3" width="96.8" height="18.7" fill="#b8b8b8"/>
<rect x="1656.65" y="456.3" width="38.72" height="18.7" fill="#f8d80c"/>
<text x="1705.05" y="511.3" font-size="39" fill="#f8d80c" text-anchor="middle">40%</text>
<text x="889" y="561.3" font-size="34" fill="#5a5a5a" text-anchor="middle">Temperature (<tspan font-size="36" dx="-2.2" dy="-4.6">°</tspan><tspan dx="-3.2" dy="4.6">C)</tspan></text>
<defs><clipPath id="tclip"><rect x="82" y="575.5" width="1623.05" height="359"/></clipPath><clipPath id="cyclip"><polygon points="82.00,691.00 206.85,710.00 331.70,748.25 456.55,843.75 581.40,860.75 706.25,852.50 831.10,837.50 955.95,845.00 1080.80,816.25 1205.65,785.00 1330.50,766.25 1455.35,768.75 1580.20,765.00 1705.05,765.00 1705.05,857.50 1580.20,857.50 1455.35,853.75 1330.50,859.50 1205.65,885.00 1080.80,906.25 955.95,924.25 831.10,909.25 706.25,920.00 581.40,911.25 456.55,904.50 331.70,874.50 206.85,738.00 82.00,710.00"/></clipPath></defs>
<g clip-path="url(#tclip)" shape-rendering="crispEdges">
<polygon points="82.00,640.50 206.85,637.00 331.70,588.75 456.55,794.50 581.40,811.25 706.25,777.50 831.10,788.75 955.95,772.50 1080.80,742.00 1205.65,713.00 1330.50,712.50 1455.35,707.50 1580.20,703.00 1705.05,703.00 1705.05,795.75 1580.20,795.00 1455.35,791.25 1330.50,808.75 1205.65,810.00 1080.80,830.00 955.95,850.00 831.10,858.75 706.25,845.75 581.40,860.00 456.55,850.00 331.70,716.25 206.85,663.00 82.00,660.50" fill="#daee9e"/>
<polyline points="82.00,640.50 206.85,637.00 331.70,588.75 456.55,794.50 581.40,811.25 706.25,777.50 831.10,788.75 955.95,772.50 1080.80,742.00 1205.65,713.00 1330.50,712.50 1455.35,707.50 1580.20,703.00 1705.05,703.00" fill="none" stroke="#e2344c" stroke-width="1.1"/>
<polyline points="82.00,660.50 206.85,663.00 331.70,716.25 456.55,850.00 581.40,860.00 706.25,845.75 831.10,858.75 955.95,850.00 1080.80,830.00 1205.65,810.00 1330.50,808.75 1455.35,791.25 1580.20,795.00 1705.05,795.75" fill="none" stroke="#e2344c" stroke-width="1.1"/>
<polygon points="82.00,691.00 206.85,710.00 331.70,748.25 456.55,843.75 581.40,860.75 706.25,852.50 831.10,837.50 955.95,845.00 1080.80,816.25 1205.65,785.00 1330.50,766.25 1455.35,768.75 1580.20,765.00 1705.05,765.00 1705.05,857.50 1580.20,857.50 1455.35,853.75 1330.50,859.50 1205.65,885.00 1080.80,906.25 955.95,924.25 831.10,909.25 706.25,920.00 581.40,911.25 456.55,904.50 331.70,874.50 206.85,738.00 82.00,710.00" fill="#a2e8f2"/>
<polygon points="82.00,640.50 206.85,637.00 331.70,588.75 456.55,794.50 581.40,811.25 706.25,777.50 831.10,788.75 955.95,772.50 1080.80,742.00 1205.65,713.00 1330.50,712.50 1455.35,707.50 1580.20,703.00 1705.05,703.00 1705.05,795.75 1580.20,795.00 1455.35,791.25 1330.50,808.75 1205.65,810.00 1080.80,830.00 955.95,850.00 831.10,858.75 706.25,845.75 581.40,860.00 456.55,850.00 331.70,716.25 206.85,663.00 82.00,660.50" fill="#88d890" clip-path="url(#cyclip)"/>
<rect x="82.0" y="708.6" width="1623.05" height="8.4" fill="#aaaaaa"/>
<polyline points="82.00,691.00 206.85,710.00 331.70,748.25 456.55,843.75 581.40,860.75 706.25,852.50 831.10,837.50 955.95,845.00 1080.80,816.25 1205.65,785.00 1330.50,766.25 1455.35,768.75 1580.20,765.00 1705.05,765.00" fill="none" stroke="#40b0f0" stroke-width="3.8"/>
<polyline points="82.00,710.00 206.85,738.00 331.70,874.50 456.55,904.50 581.40,911.25 706.25,920.00 831.10,909.25 955.95,924.25 1080.80,906.25 1205.65,885.00 1330.50,859.50 1455.35,853.75 1580.20,857.50 1705.05,857.50" fill="none" stroke="#40b0f0" stroke-width="3.8"/>
<line x1="82.00" y1="701.00" x2="206.85" y2="724.50" stroke="#40b0f0" stroke-width="10"/><line x1="206.85" y1="724.50" x2="331.70" y2="811.25" stroke="#40b0f0" stroke-width="10"/><line x1="331.70" y1="811.25" x2="456.55" y2="873.75" stroke="#40b0f0" stroke-width="10"/><line x1="456.55" y1="873.75" x2="581.40" y2="886.25" stroke="#40b0f0" stroke-width="10"/><line x1="581.40" y1="886.25" x2="706.25" y2="886.25" stroke="#40b0f0" stroke-width="10"/><line x1="706.25" y1="886.25" x2="831.10" y2="873.75" stroke="#40b0f0" stroke-width="10"/><line x1="831.10" y1="873.75" x2="955.95" y2="886.25" stroke="#40b0f0" stroke-width="10"/><line x1="955.95" y1="886.25" x2="1080.80" y2="861.25" stroke="#40b0f0" stroke-width="10"/><line x1="1080.80" y1="861.25" x2="1205.65" y2="836.25" stroke="#40b0f0" stroke-width="10"/><line x1="1205.65" y1="836.25" x2="1330.50" y2="811.25" stroke="#40b0f0" stroke-width="10"/><line x1="1330.50" y1="811.25" x2="1455.35" y2="811.25" stroke="#40b0f0" stroke-width="10"/><line x1="1455.35" y1="811.25" x2="1580.20" y2="811.25" stroke="#40b0f0" stroke-width="10"/><line x1="1580.20" y1="811.25" x2="1705.05" y2="811.50" stroke="#40b0f0" stroke-width="10"/>
<line x1="82.00" y1="650.20" x2="206.85" y2="650.20" stroke="#e0223e" stroke-width="11"/><line x1="206.85" y1="650.20" x2="331.70" y2="650.20" stroke="#e0223e" stroke-width="11"/><line x1="331.70" y1="650.20" x2="456.55" y2="823.60" stroke="#e0223e" stroke-width="11"/><line x1="456.55" y1="823.60" x2="581.40" y2="836.10" stroke="#e0223e" stroke-width="11"/><line x1="581.40" y1="836.10" x2="706.25" y2="811.30" stroke="#e0223e" stroke-width="11"/><line x1="706.25" y1="811.30" x2="831.10" y2="823.40" stroke="#e0223e" stroke-width="11"/><line x1="831.10" y1="823.40" x2="955.95" y2="811.30" stroke="#e0223e" stroke-width="11"/><line x1="955.95" y1="811.30" x2="1080.80" y2="786.40" stroke="#e0223e" stroke-width="11"/><line x1="1080.80" y1="786.40" x2="1205.65" y2="761.80" stroke="#e0223e" stroke-width="11"/><line x1="1205.65" y1="761.80" x2="1330.50" y2="761.80" stroke="#e0223e" stroke-width="11"/><line x1="1330.50" y1="761.80" x2="1455.35" y2="749.20" stroke="#e0223e" stroke-width="11"/><line x1="1455.35" y1="749.20" x2="1580.20" y2="749.20" stroke="#e0223e" stroke-width="11"/><line x1="1580.20" y1="749.20" x2="1705.05" y2="749.40" stroke="#e0223e" stroke-width="11"/>
<polyline points="82.00,650.20 206.85,650.20 331.70,650.20 456.55,823.60 581.40,836.10 706.25,811.30 831.10,823.40 955.95,811.30 1080.80,786.40 1205.65,761.80 1330.50,761.80 1455.35,749.20 1580.20,749.20 1705.05,749.40" fill="none" stroke="#70606a" stroke-width="1.2"/>
</g>
<line x1="82.0" y1="897.88" x2="1705.05" y2="897.88" stroke="#707070" stroke-width="1"/>
<line x1="82.0" y1="836.00" x2="1705.05" y2="836.00" stroke="#707070" stroke-width="1"/>
<line x1="82.0" y1="774.12" x2="1705.05" y2="774.12" stroke="#707070" stroke-width="1"/>
<line x1="82.0" y1="712.25" x2="1705.05" y2="712.25" stroke="#707070" stroke-width="1"/>
<line x1="82.0" y1="650.38" x2="1705.05" y2="650.38" stroke="#707070" stroke-width="1"/>
<line x1="82.0" y1="588.50" x2="1705.05" y2="588.50" stroke="#707070" stroke-width="1"/>
<line x1="82.0" y1="922.62" x2="107.0" y2="922.62" stroke="#707070" stroke-width="1"/>
<line x1="1680.05" y1="922.62" x2="1705.05" y2="922.62" stroke="#707070" stroke-width="1"/>
<line x1="82.0" y1="910.25" x2="107.0" y2="910.25" stroke="#707070" stroke-width="1"/>
<line x1="1680.05" y1="910.25" x2="1705.05" y2="910.25" stroke="#707070" stroke-width="1"/>
<line x1="82.0" y1="885.50" x2="107.0" y2="885.50" stroke="#707070" stroke-width="1"/>
<line x1="1680.05" y1="885.50" x2="1705.05" y2="885.50" stroke="#707070" stroke-width="1"/>
<line x1="82.0" y1="873.12" x2="107.0" y2="873.12" stroke="#707070" stroke-width="1"/>
<line x1="1680.05" y1="873.12" x2="1705.05" y2="873.12" stroke="#707070" stroke-width="1"/>
<line x1="82.0" y1="860.75" x2="107.0" y2="860.75" stroke="#707070" stroke-width="1"/>
<line x1="1680.05" y1="860.75" x2="1705.05" y2="860.75" stroke="#707070" stroke-width="1"/>
<line x1="82.0" y1="848.38" x2="107.0" y2="848.38" stroke="#707070" stroke-width="1"/>
<line x1="1680.05" y1="848.38" x2="1705.05" y2="848.38" stroke="#707070" stroke-width="1"/>
<line x1="82.0" y1="823.62" x2="107.0" y2="823.62" stroke="#707070" stroke-width="1"/>
<line x1="1680.05" y1="823.62" x2="1705.05" y2="823.62" stroke="#707070" stroke-width="1"/>
<line x1="82.0" y1="811.25" x2="107.0" y2="811.25" stroke="#707070" stroke-width="1"/>
<line x1="1680.05" y1="811.25" x2="1705.05" y2="811.25" stroke="#707070" stroke-width="1"/>
<line x1="82.0" y1="798.88" x2="107.0" y2="798.88" stroke="#707070" stroke-width="1"/>
<line x1="1680.05" y1="798.88" x2="1705.05" y2="798.88" stroke="#707070" stroke-width="1"/>
<line x1="82.0" y1="786.50" x2="107.0" y2="786.50" stroke="#707070" stroke-width="1"/>
<line x1="1680.05" y1="786.50" x2="1705.05" y2="786.50" stroke="#707070" stroke-width="1"/>
<line x1="82.0" y1="761.75" x2="107.0" y2="761.75" stroke="#707070" stroke-width="1"/>
<line x1="1680.05" y1="761.75" x2="1705.05" y2="761.75" stroke="#707070" stroke-width="1"/>
<line x1="82.0" y1="749.38" x2="107.0" y2="749.38" stroke="#707070" stroke-width="1"/>
<line x1="1680.05" y1="749.38" x2="1705.05" y2="749.38" stroke="#707070" stroke-width="1"/>
<line x1="82.0" y1="737.00" x2="107.0" y2="737.00" stroke="#707070" stroke-width="1"/>
<line x1="1680.05" y1="737.00" x2="1705.05" y2="737.00" stroke="#707070" stroke-width="1"/>
<line x1="82.0" y1="724.62" x2="107.0" y2="724.62" stroke="#707070" stroke-width="1"/>
<line x1="1680.05" y1="724.62" x2="1705.05" y2="724.62" stroke="#707070" stroke-width="1"/>
<line x1="82.0" y1="699.88" x2="107.0" y2="699.88" stroke="#707070" stroke-width="1"/>
<line x1="1680.05" y1="699.88" x2="1705.05" y2="699.88" stroke="#707070" stroke-width="1"/>
<line x1="82.0" y1="687.50" x2="107.0" y2="687.50" stroke="#707070" stroke-width="1"/>
<line x1="1680.05" y1="687.50" x2="1705.05" y2="687.50" stroke="#707070" stroke-width="1"/>
<line x1="82.0" y1="675.12" x2="107.0" y2="675.12" stroke="#707070" stroke-width="1"/>
<line x1="1680.05" y1="675.12" x2="1705.05" y2="675.12" stroke="#707070" stroke-width="1"/>
<line x1="82.0" y1="662.75" x2="107.0" y2="662.75" stroke="#707070" stroke-width="1"/>
<line x1="1680.05" y1="662.75" x2="1705.05" y2="662.75" stroke="#707070" stroke-width="1"/>
<line x1="82.0" y1="638.00" x2="107.0" y2="638.00" stroke="#707070" stroke-width="1"/>
<line x1="1680.05" y1="638.00" x2="1705.05" y2="638.00" stroke="#707070" stroke-width="1"/>
<line x1="82.0" y1="625.62" x2="107.0" y2="625.62" stroke="#707070" stroke-width="1"/>
<line x1="1680.05" y1="625.62" x2="1705.05" y2="625.62" stroke="#707070" stroke-width="1"/>
<line x1="82.0" y1="613.25" x2="107.0" y2="613.25" stroke="#707070" stroke-width="1"/>
<line x1="1680.05" y1="613.25" x2="1705.05" y2="613.25" stroke="#707070" stroke-width="1"/>
<line x1="82.0" y1="600.88" x2="107.0" y2="600.88" stroke="#707070" stroke-width="1"/>
<line x1="1680.05" y1="600.88" x2="1705.05" y2="600.88" stroke="#707070" stroke-width="1"/>
<line x1="206.85" y1="575.5" x2="206.85" y2="581.5" stroke="#707070" stroke-width="1"/>
<line x1="206.85" y1="928.5" x2="206.85" y2="934.5" stroke="#707070" stroke-width="1"/>
<line x1="331.70" y1="575.5" x2="331.70" y2="934.5" stroke="#7c7c7c" stroke-width="1.1"/>
<line x1="456.55" y1="575.5" x2="456.55" y2="581.5" stroke="#707070" stroke-width="1"/>
<line x1="456.55" y1="928.5" x2="456.55" y2="934.5" stroke="#707070" stroke-width="1"/>
<line x1="581.40" y1="575.5" x2="581.40" y2="934.5" stroke="#7c7c7c" stroke-width="1.1"/>
<line x1="706.25" y1="575.5" x2="706.25" y2="581.5" stroke="#707070" stroke-width="1"/>
<line x1="706.25" y1="928.5" x2="706.25" y2="934.5" stroke="#707070" stroke-width="1"/>
<line x1="831.10" y1="575.5" x2="831.10" y2="934.5" stroke="#7c7c7c" stroke-width="1.1"/>
<line x1="955.95" y1="575.5" x2="955.95" y2="581.5" stroke="#707070" stroke-width="1"/>
<line x1="955.95" y1="928.5" x2="955.95" y2="934.5" stroke="#707070" stroke-width="1"/>
<line x1="1080.80" y1="575.5" x2="1080.80" y2="934.5" stroke="#7c7c7c" stroke-width="1.1"/>
<line x1="1205.65" y1="575.5" x2="1205.65" y2="581.5" stroke="#707070" stroke-width="1"/>
<line x1="1205.65" y1="928.5" x2="1205.65" y2="934.5" stroke="#707070" stroke-width="1"/>
<line x1="1330.50" y1="575.5" x2="1330.50" y2="934.5" stroke="#7c7c7c" stroke-width="1.1"/>
<line x1="1455.35" y1="575.5" x2="1455.35" y2="581.5" stroke="#707070" stroke-width="1"/>
<line x1="1455.35" y1="928.5" x2="1455.35" y2="934.5" stroke="#707070" stroke-width="1"/>
<line x1="1580.20" y1="575.5" x2="1580.20" y2="934.5" stroke="#7c7c7c" stroke-width="1.1"/>
<rect x="82.0" y="575.5" width="1623.05" height="359.0" fill="none" stroke="#707070" stroke-width="1.2"/>
<text x="70" y="602.0" font-size="32" fill="#5a5a5a" text-anchor="end">10</text>
<text x="70" y="663.8" font-size="32" fill="#5a5a5a" text-anchor="end">5</text>
<text x="70" y="726.6" font-size="32" fill="#5a5a5a" text-anchor="end">0</text>
<text x="70" y="788.5" font-size="32" fill="#5a5a5a" text-anchor="end">-5</text>
<text x="70" y="850.2" font-size="32" fill="#5a5a5a" text-anchor="end">-10</text>
<text x="70" y="912.9" font-size="32" fill="#5a5a5a" text-anchor="end">-15</text>
<text x="888" y="1007.5" font-size="33.6" fill="#5a5a5a" text-anchor="middle">Precipitation (mm) / Precipitation probability (%)</text>
<text x="82.00" y="1061.3" font-size="33.6" fill="#5a5a5a" text-anchor="middle">Wed</text>
<text x="206.85" y="1061.3" font-size="33.6" fill="#5a5a5a" text-anchor="middle">Thu</text>
<text x="331.70" y="1061.3" font-size="33.6" fill="#5a5a5a" text-anchor="middle">Fri</text>
<text x="456.55" y="1061.3" font-size="33.6" fill="#b3004a" text-anchor="middle">Sat</text>
<text x="581.40" y="1061.3" font-size="33.6" fill="#b3004a" text-anchor="middle">Sun</text>
<text x="706.25" y="1061.3" font-size="33.6" fill="#5a5a5a" text-anchor="middle">Mon</text>
<text x="831.10" y="1061.3" font-size="33.6" fill="#5a5a5a" text-anchor="middle">Tue</text>
<text x="955.95" y="1061.3" font-size="33.6" fill="#5a5a5a" text-anchor="middle">Wed</text>
<text x="1080.80" y="1061.3" font-size="33.6" fill="#5a5a5a" text-anchor="middle">Thu</text>
<text x="1205.65" y="1061.3" font-size="33.6" fill="#5a5a5a" text-anchor="middle">Fri</text>
<text x="1330.50" y="1061.3" font-size="33.6" fill="#b3004a" text-anchor="middle">Sat</text>
<text x="1455.35" y="1061.3" font-size="33.6" fill="#b3004a" text-anchor="middle">Sun</text>
<text x="1580.20" y="1061.3" font-size="33.6" fill="#5a5a5a" text-anchor="middle">Mon</text>
<text x="1705.05" y="1061.3" font-size="33.6" fill="#5a5a5a" text-anchor="middle">Tue</text>
<line x1="82.0" y1="1332.70" x2="1705.05" y2="1332.70" stroke="#707070" stroke-width="1"/>
<line x1="82.0" y1="1269.40" x2="1705.05" y2="1269.40" stroke="#707070" stroke-width="1"/>
<line x1="82.0" y1="1206.10" x2="1705.05" y2="1206.10" stroke="#707070" stroke-width="1"/>
<line x1="82.0" y1="1142.80" x2="1705.05" y2="1142.80" stroke="#707070" stroke-width="1"/>
<line x1="82.0" y1="1383.34" x2="107.0" y2="1383.34" stroke="#707070" stroke-width="1"/>
<line x1="1680.05" y1="1383.34" x2="1705.05" y2="1383.34" stroke="#707070" stroke-width="1"/>
<line x1="82.0" y1="1370.68" x2="107.0" y2="1370.68" stroke="#707070" stroke-width="1"/>
<line x1="1680.05" y1="1370.68" x2="1705.05" y2="1370.68" stroke="#707070" stroke-width="1"/>
<line x1="82.0" y1="1358.02" x2="107.0" y2="1358.02" stroke="#707070" stroke-width="1"/>
<line x1="1680.05" y1="1358.02" x2="1705.05" y2="1358.02" stroke="#707070" stroke-width="1"/>
<line x1="82.0" y1="1345.36" x2="107.0" y2="1345.36" stroke="#707070" stroke-width="1"/>
<line x1="1680.05" y1="1345.36" x2="1705.05" y2="1345.36" stroke="#707070" stroke-width="1"/>
<line x1="82.0" y1="1320.04" x2="107.0" y2="1320.04" stroke="#707070" stroke-width="1"/>
<line x1="1680.05" y1="1320.04" x2="1705.05" y2="1320.04" stroke="#707070" stroke-width="1"/>
<line x1="82.0" y1="1307.38" x2="107.0" y2="1307.38" stroke="#707070" stroke-width="1"/>
<line x1="1680.05" y1="1307.38" x2="1705.05" y2="1307.38" stroke="#707070" stroke-width="1"/>
<line x1="82.0" y1="1294.72" x2="107.0" y2="1294.72" stroke="#707070" stroke-width="1"/>
<line x1="1680.05" y1="1294.72" x2="1705.05" y2="1294.72" stroke="#707070" stroke-width="1"/>
<line x1="82.0" y1="1282.06" x2="107.0" y2="1282.06" stroke="#707070" stroke-width="1"/>
<line x1="1680.05" y1="1282.06" x2="1705.05" y2="1282.06" stroke="#707070" stroke-width="1"/>
<line x1="82.0" y1="1256.74" x2="107.0" y2="1256.74" stroke="#707070" stroke-width="1"/>
<line x1="1680.05" y1="1256.74" x2="1705.05" y2="1256.74" stroke="#707070" stroke-width="1"/>
<line x1="82.0" y1="1244.08" x2="107.0" y2="1244.08" stroke="#707070" stroke-width="1"/>
<line x1="1680.05" y1="1244.08" x2="1705.05" y2="1244.08" stroke="#707070" stroke-width="1"/>
<line x1="82.0" y1="1231.42" x2="107.0" y2="1231.42" stroke="#707070" stroke-width="1"/>
<line x1="1680.05" y1="1231.42" x2="1705.05" y2="1231.42" stroke="#707070" stroke-width="1"/>
<line x1="82.0" y1="1218.76" x2="107.0" y2="1218.76" stroke="#707070" stroke-width="1"/>
<line x1="1680.05" y1="1218.76" x2="1705.05" y2="1218.76" stroke="#707070" stroke-width="1"/>
<line x1="82.0" y1="1193.44" x2="107.0" y2="1193.44" stroke="#707070" stroke-width="1"/>
<line x1="1680.05" y1="1193.44" x2="1705.05" y2="1193.44" stroke="#707070" stroke-width="1"/>
<line x1="82.0" y1="1180.78" x2="107.0" y2="1180.78" stroke="#707070" stroke-width="1"/>
<line x1="1680.05" y1="1180.78" x2="1705.05" y2="1180.78" stroke="#707070" stroke-width="1"/>
<line x1="82.0" y1="1168.12" x2="107.0" y2="1168.12" stroke="#707070" stroke-width="1"/>
<line x1="1680.05" y1="1168.12" x2="1705.05" y2="1168.12" stroke="#707070" stroke-width="1"/>
<line x1="82.0" y1="1155.46" x2="107.0" y2="1155.46" stroke="#707070" stroke-width="1"/>
<line x1="1680.05" y1="1155.46" x2="1705.05" y2="1155.46" stroke="#707070" stroke-width="1"/>
<line x1="82.0" y1="1130.14" x2="107.0" y2="1130.14" stroke="#707070" stroke-width="1"/>
<line x1="1680.05" y1="1130.14" x2="1705.05" y2="1130.14" stroke="#707070" stroke-width="1"/>
<line x1="82.0" y1="1117.48" x2="107.0" y2="1117.48" stroke="#707070" stroke-width="1"/>
<line x1="1680.05" y1="1117.48" x2="1705.05" y2="1117.48" stroke="#707070" stroke-width="1"/>
<line x1="82.0" y1="1104.82" x2="107.0" y2="1104.82" stroke="#707070" stroke-width="1"/>
<line x1="1680.05" y1="1104.82" x2="1705.05" y2="1104.82" stroke="#707070" stroke-width="1"/>
<line x1="82.0" y1="1092.16" x2="107.0" y2="1092.16" stroke="#707070" stroke-width="1"/>
<line x1="1680.05" y1="1092.16" x2="1705.05" y2="1092.16" stroke="#707070" stroke-width="1"/>
<line x1="206.85" y1="1079.5" x2="206.85" y2="1086.5" stroke="#c0306c" stroke-width="1.1"/>
<line x1="331.70" y1="1079.5" x2="331.70" y2="1396.0" stroke="#7c7c7c" stroke-width="1.1"/>
<line x1="456.55" y1="1079.5" x2="456.55" y2="1086.5" stroke="#c0306c" stroke-width="1.1"/>
<line x1="581.40" y1="1079.5" x2="581.40" y2="1396.0" stroke="#7c7c7c" stroke-width="1.1"/>
<line x1="706.25" y1="1079.5" x2="706.25" y2="1086.5" stroke="#c0306c" stroke-width="1.1"/>
<line x1="831.10" y1="1079.5" x2="831.10" y2="1396.0" stroke="#7c7c7c" stroke-width="1.1"/>
<line x1="955.95" y1="1079.5" x2="955.95" y2="1086.5" stroke="#c0306c" stroke-width="1.1"/>
<line x1="1080.80" y1="1079.5" x2="1080.80" y2="1396.0" stroke="#7c7c7c" stroke-width="1.1"/>
<line x1="1205.65" y1="1079.5" x2="1205.65" y2="1086.5" stroke="#c0306c" stroke-width="1.1"/>
<line x1="1330.50" y1="1079.5" x2="1330.50" y2="1396.0" stroke="#7c7c7c" stroke-width="1.1"/>
<line x1="1455.35" y1="1079.5" x2="1455.35" y2="1086.5" stroke="#c0306c" stroke-width="1.1"/>
<line x1="1580.20" y1="1079.5" x2="1580.20" y2="1396.0" stroke="#7c7c7c" stroke-width="1.1"/>
<rect x="168.85" y="1197.24" width="76" height="198.76" fill="#3088e4"/>
<rect x="293.70" y="1209.26" width="76" height="186.74" fill="#3088e4"/>
<line x1="206.55" y1="1140.90" x2="206.55" y2="1253.89" stroke="#606060" stroke-width="4.6"/>
<line x1="168.85" y1="1140.90" x2="244.85" y2="1140.90" stroke="#606060" stroke-width="3.5"/>
<line x1="168.85" y1="1253.89" x2="244.85" y2="1253.89" stroke="#606060" stroke-width="3.5"/>
<line x1="331.40" y1="1130.77" x2="331.40" y2="1289.97" stroke="#606060" stroke-width="4.6"/>
<line x1="293.70" y1="1130.77" x2="369.70" y2="1130.77" stroke="#606060" stroke-width="3.5"/>
<line x1="293.70" y1="1289.97" x2="369.70" y2="1289.97" stroke="#606060" stroke-width="3.5"/>
<line x1="82.0" y1="1079.5" x2="82.0" y2="1396.0" stroke="#707070" stroke-width="1.2"/>
<line x1="1705.05" y1="1079.5" x2="1705.05" y2="1396.0" stroke="#707070" stroke-width="1.2"/>
<line x1="82.0" y1="1396.0" x2="1705.05" y2="1396.0" stroke="#707070" stroke-width="1.2"/>
<line x1="82.0" y1="1079.5" x2="1705.05" y2="1079.5" stroke="#c0306c" stroke-width="1.2"/>
<text x="70" y="1104.5" font-size="32" fill="#5a5a5a" text-anchor="end">10</text>
<text x="1717" y="1104.5" font-size="32" fill="#5a5a5a">10</text>
<text x="70" y="1157" font-size="32" fill="#5a5a5a" text-anchor="end">8</text>
<text x="1717" y="1157" font-size="32" fill="#5a5a5a">8</text>
<text x="70" y="1221.5" font-size="32" fill="#5a5a5a" text-anchor="end">6</text>
<text x="1717" y="1221.5" font-size="32" fill="#5a5a5a">6</text>
<text x="70" y="1285" font-size="32" fill="#5a5a5a" text-anchor="end">4</text>
<text x="1717" y="1285" font-size="32" fill="#5a5a5a">4</text>
<text x="70" y="1348.5" font-size="32" fill="#5a5a5a" text-anchor="end">2</text>
<text x="1717" y="1348.5" font-size="32" fill="#5a5a5a">2</text>
<text x="70" y="1397" font-size="32" fill="#5a5a5a" text-anchor="end">0</text>
<text x="1717" y="1397" font-size="32" fill="#5a5a5a">0</text>
<text x="82.00" y="1432" font-size="39" fill="#a2e8f2" text-anchor="middle">0%</text>
<text x="206.85" y="1432" font-size="39" fill="#5a00d8" text-anchor="middle">100%</text>
<text x="331.70" y="1432" font-size="39" fill="#1a10c0" text-anchor="middle">85%</text>
<text x="456.55" y="1432" font-size="39" fill="#80dcf0" text-anchor="middle">20%</text>
<text x="581.40" y="1432" font-size="39" fill="#a2e8f2" text-anchor="middle">0%</text>
<text x="706.25" y="1432" font-size="39" fill="#a2e8f2" text-anchor="middle">0%</text>
<text x="831.10" y="1432" font-size="39" fill="#a2e8f2" text-anchor="middle">0%</text>
<text x="955.95" y="1432" font-size="39" fill="#90e2f2" text-anchor="middle">5%</text>
<text x="1080.80" y="1432" font-size="39" fill="#90e2f2" text-anchor="middle">5%</text>
<text x="1205.65" y="1432" font-size="39" fill="#90e2f2" text-anchor="middle">5%</text>
<text x="1330.50" y="1432" font-size="39" fill="#80dcf0" text-anchor="middle">20%</text>
<text x="1455.35" y="1432" font-size="39" fill="#44c0f0" text-anchor="middle">25%</text>
<text x="1580.20" y="1432" font-size="39" fill="#80dcf0" text-anchor="middle">15%</text>
<text x="1705.05" y="1432" font-size="39" fill="#80dcf0" text-anchor="middle">10%</text>
</svg>
</body></html>
